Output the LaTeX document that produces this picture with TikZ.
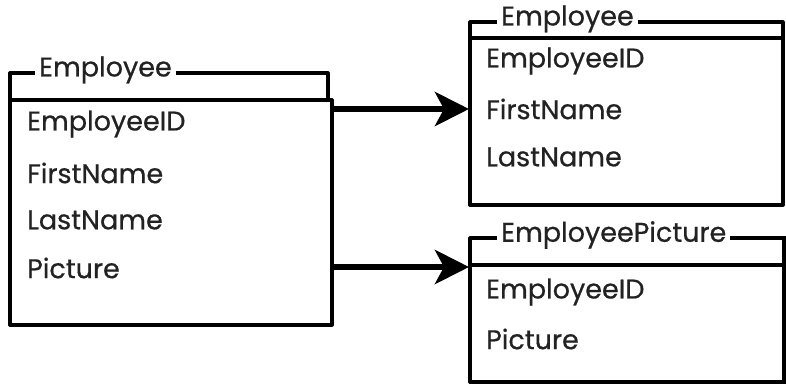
\documentclass[tikz,border=0pt]{standalone}
\usepackage{fontspec}
\setmainfont{Poppins}[FakeBold=0.6]
\usetikzlibrary{arrows.meta}
\definecolor{ink}{HTML}{222222}
\begin{document}
\begin{tikzpicture}[x=1pt,y=-1pt,
  frame/.style={line width=3.2pt,line cap=round,line join=round},
  title/.style={fill=white,text=ink,inner xsep=4pt,inner ysep=0pt,font=\fontsize{27}{30}\selectfont},
  field/.style={anchor=west,text=ink,inner sep=0pt,font=\fontsize{27}{30}\selectfont},
  link/.style={line width=6pt,-{Stealth[length=34pt,width=34pt,inset=9pt]}}]
\useasboundingbox (0,0) rectangle (786,389);

% left table: Employee
\draw[frame] (10,325) -- (10,73) -- (328,73) -- (328,100);
\draw[frame] (10,100) -- (332,100) -- (332,325) -- (10,325);
\node[title,anchor=west] (ltitle) at (35,70) {Employee};
\node[field] (lid)    at (27,124) {EmployeeID};
\node[field] (lfirst) at (27,173) {FirstName};
\node[field] (llast)  at (27,220) {LastName};
\node[field] (lpic)   at (27,268) {Picture};

% right table: Employee
\draw[frame] (470,205) -- (470,22) -- (783,22) -- (783,38);
\draw[frame] (470,38) -- (783,38) -- (783,205) -- (470,205);
\node[title,anchor=west] (rtitle) at (497,19) {Employee};
\node[field] (rid)    at (486,61)  {EmployeeID};
\node[field] (rfirst) at (486,109) {FirstName};
\node[field] (rlast)  at (486,157) {LastName};

% right table: EmployeePicture
\draw[frame] (470,382) -- (470,238) -- (786,238);
\draw[frame] (470,265) -- (786,265);
\draw[frame] (470,382) -- (786,382);
\draw[frame] (784,238) -- (784,382);
\node[title,anchor=west] (ptitle) at (497,235) {EmployeePicture};
\node[field] (pid)  at (486,292) {EmployeeID};
\node[field] (ppic) at (486,339) {Picture};

% splitting arrows
\coordinate (s1) at (333,109);
\coordinate (t1) at (469,109);
\coordinate (s2) at (333,267);
\coordinate (t2) at (469,267);
\draw[link] (s1) -- (t1);
\draw[link] (s2) -- (t2);
\end{tikzpicture}
\end{document}
